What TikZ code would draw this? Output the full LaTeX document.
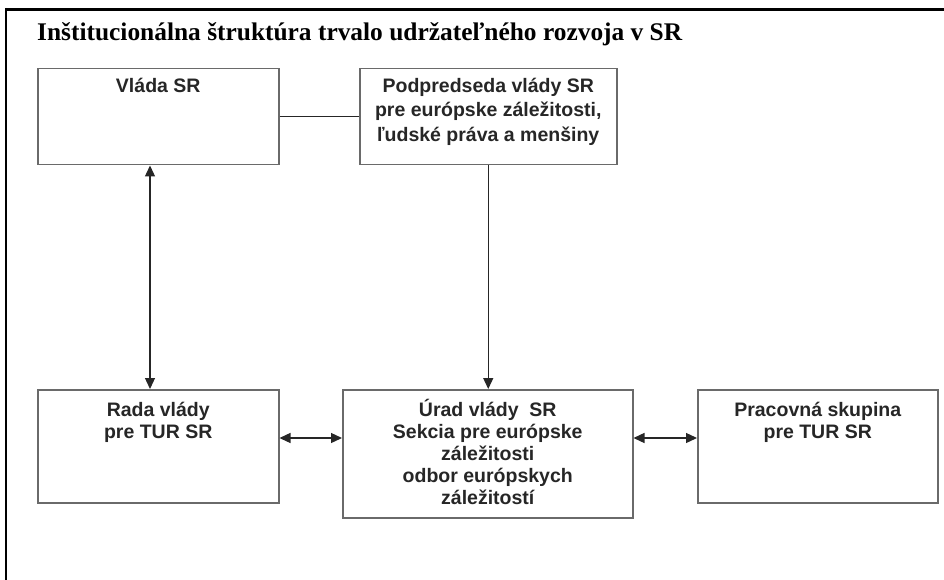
\documentclass[tikz,border=0pt]{standalone}
\usepackage{fontspec}
\setmainfont{Liberation Sans}
\newfontfamily\titlefont{Liberation Serif}
\usetikzlibrary{arrows.meta,calc}
\definecolor{boxgray}{HTML}{6A6A6A}
\definecolor{inkgray}{HTML}{262626}
% fixed height of the first line of a box text
\newcommand{\firstline}{\rule{0pt}{18.5pt}}

\begin{document}
\begin{tikzpicture}[x=1pt, y=-1pt,
        >={Triangle[length=11pt, width=10pt]},
        orgbox/.style={draw=boxgray, line width=1.5pt, anchor=north west, inner sep=0pt},
        boxtext/.style={anchor=north, align=center, inner sep=0pt, text=inkgray,
            font=\bfseries\fontsize{19.5}{22}\selectfont},
        link/.style={draw=inkgray, line width=1.3pt}]
        \useasboundingbox (0, 0) rectangle (944, 580);
        % frame of the page
        \path[draw=black, line width=3pt] (5, 9.5) -- (944, 9.5);
        \path[draw=black, line width=2.5pt] (6, 8) -- (6, 580);
        % title
        \node[anchor=base west, inner sep=0pt] (title) at (37, 41)
            {\titlefont\bfseries\fontsize{25.4}{28}\selectfont Inštitucionálna štruktúra trvalo udržateľného rozvoja v SR};
        % boxes
        \node[orgbox, minimum width=241pt, minimum height=96pt] (vlada) at (37, 68) {};
        \node[orgbox, minimum width=257pt, minimum height=96pt] (podpred) at (359, 68) {};
        \node[orgbox, minimum width=241pt, minimum height=113pt] (rada) at (37, 389) {};
        \node[orgbox, minimum width=290pt, minimum height=128pt] (urad) at (342, 389) {};
        \node[orgbox, minimum width=240pt, minimum height=113pt] (skupina) at (697, 389) {};
        % box texts (first baseline 24 or 27 below the top edge)
        \node[boxtext] (vladatext) at ($(vlada.north)+(0, 5.5)$) {\firstline Vláda SR};
        \node[boxtext, font=\bfseries\fontsize{19.5}{24.5}\selectfont] (podpredtext) at ($(podpred.north)+(0, 5.5)$)
            {\firstline Podpredseda vlády SR\\pre európske záležitosti,\\ľudské práva a menšiny};
        \node[boxtext] (radatext) at ($(rada.north)+(0, 8.5)$) {\firstline Rada vlády\\pre TUR SR};
        \node[boxtext] (uradtext) at ($(urad.north)+(0, 8.5)$)
            {\firstline Úrad vlády~ SR\\Sekcia pre európske\\záležitosti\\odbor európskych\\záležitostí};
        \node[boxtext] (skupinatext) at ($(skupina.north)+(0, 8.5)$) {\firstline Pracovná skupina\\pre TUR SR};
        % connectors
        \draw[link] (vlada) -- (podpred);
        \draw[link, <->] ($(vlada.south west)+(113, 0)$) -- ($(rada.north west)+(113, 0)$);
        \draw[link, ->] (podpred.south) -- (podpred.south |- urad.north);
        \draw[link, <->] ($(rada.north east)+(0, 49)$) -- ($(urad.north west)+(0, 49)$);
        \draw[link, <->] ($(urad.north east)+(0, 49)$) -- ($(skupina.north west)+(0, 49)$);
\end{tikzpicture}
\end{document}
